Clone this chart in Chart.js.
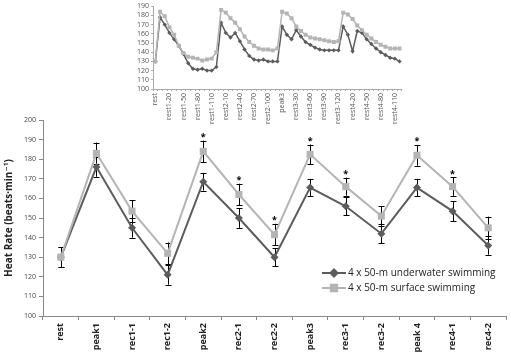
<!DOCTYPE html>
<html><head><meta charset="utf-8">
<script src="https://cdn.jsdelivr.net/npm/chart.js@4"></script>
<style>
html,body{margin:0;padding:0;background:#fff;}
#wrap{position:relative;width:511px;height:355px;overflow:hidden;}
#main{position:absolute;left:0;top:0;}
#inset{position:absolute;left:120px;top:0;}
</style></head><body>
<div id="wrap">
<canvas id="main" width="511" height="355"></canvas>
<canvas id="inset" width="290" height="132"></canvas>
</div>
<script>
// ---------- main chart data ----------
const categories = ['rest','peak1','rec1-1','rec1-2','peak2','rec2-1','rec2-2','peak3','rec3-1','rec3-2','peak 4','rec4-1','rec4-2'];
const underwater = [130,176,145,121,168.5,150,130,165.5,156,142,165.5,153.5,136];
const underwaterErr = [5,5,5,5,4.5,5,4.7,4.5,4.7,5,4.5,5,4.7];
const surface = [130,183,153.5,132,184,162,141.5,182.5,166,151,182,166,145];
const surfaceErr = [5,5.5,5.5,5.5,5.5,5.5,5.5,5,4.6,5,5.3,4.7,5.7];
const significant = [4,5,6,7,8,10,11];
const seriesNames = ['4 x 50-m underwater swimming','4 x 50-m surface swimming'];

// ---------- inset data ----------
const insetCategories = ['rest','peak1',
 'rest1-10','rest1-20','rest1-30','rest1-40','rest1-50','rest1-60','rest1-70','rest1-80','rest1-90','rest1-100','rest1-110','rest1-120','peak2',
 'rest2-10','rest2-20','rest2-30','rest2-40','rest2-50','rest2-60','rest2-70','rest2-80','rest2-90','rest2-100','rest2-110','rest2-120','peak3',
 'rest3-10','rest3-20','rest3-30','rest3-40','rest3-50','rest3-60','rest3-70','rest3-80','rest3-90','rest3-100','rest3-110','rest3-120','peak4',
 'rest4-10','rest4-20','rest4-30','rest4-40','rest4-50','rest4-60','rest4-70','rest4-80','rest4-90','rest4-100','rest4-110','rest4-120'];
const insetUnderwater = [130,178,170,161,154,147,138,128,122,121,122,120,120,124,172,
 161,156,161,152,143,136,132,131,132,130,130,130,168,
 159,154,164,157,151,148,145,143,142,142,142,142,168,
 159,141,163,161,154,149,144,140,137,134,133,130];
const insetSurface = [130,184,179,167,159,147,139,135,134,133,131,132,133,140,186,
 183,177,172,165,157,151,147,144,143,143,142,144,184,
 182,177,168,163,159,156,155,154,153,152,151,152,183,
 181,176,169,164,159,155,151,148,146,144,144,144];

const DARK = '#5c5c5c';
const LIGHT = '#b4b4b4';
const AXIS = '#888888';
const FONT = "'Open Sans', 'DejaVu Sans', sans-serif";

const errorBars = {
  id: 'errorBars',
  beforeDatasetsDraw(chart) {
    const ctx = chart.ctx, ys = chart.scales.y;
    const sets = [[0, underwaterErr], [1, surfaceErr]];
    ctx.save();
    ctx.strokeStyle = '#000'; ctx.lineWidth = 1;
    sets.forEach(([di, errs]) => {
      const meta = chart.getDatasetMeta(di);
      const vals = chart.data.datasets[di].data;
      meta.data.forEach((pt, i) => {
        const x = Math.round(pt.x) + 0.5;
        const yt = ys.getPixelForValue(vals[i] + errs[i]);
        const yb = ys.getPixelForValue(vals[i] - errs[i]);
        ctx.beginPath();
        ctx.moveTo(x, yt); ctx.lineTo(x, yb);
        ctx.moveTo(x - 3, Math.round(yt) + 0.5); ctx.lineTo(x + 3, Math.round(yt) + 0.5);
        ctx.moveTo(x - 3, Math.round(yb) + 0.5); ctx.lineTo(x + 3, Math.round(yb) + 0.5);
        ctx.stroke();
      });
    });
    ctx.restore();
  },
  afterDatasetsDraw(chart) {
    const ctx = chart.ctx, ys = chart.scales.y;
    const meta = chart.getDatasetMeta(1);
    ctx.save();
    ctx.fillStyle = '#000';
    ctx.font = "bold 9px " + FONT;
    ctx.textAlign = 'center'; ctx.textBaseline = 'middle';
    significant.forEach(i => {
      const pt = meta.data[i];
      const y = ys.getPixelForValue(surface[i] + surfaceErr[i]) - 5;
      ctx.fillText('*', pt.x, y + 2);
    });
    // legend
    const rows = [[seriesNames[0], DARK, 'rectRot', 3.5, 273], [seriesNames[1], LIGHT, 'rect', 4.5, 288]];
    rows.forEach(([txt, col, ps, r, y]) => {
      ctx.strokeStyle = col; ctx.lineWidth = 2;
      ctx.beginPath(); ctx.moveTo(322, y); ctx.lineTo(346, y); ctx.stroke();
      Chart.helpers.drawPoint(ctx, {pointStyle: ps, radius: r, borderWidth: 1}, 334, y);
      ctx.fillStyle = col; ctx.fill();
      ctx.fillStyle = '#222';
      ctx.font = "10px " + FONT;
      ctx.textAlign = 'left';
      ctx.fillText(txt, 348, y);
    });
    ctx.restore();
  }
};

new Chart(document.getElementById('main'), {
  type: 'line',
  data: {
    labels: categories,
    datasets: [
      {label: seriesNames[0], data: underwater, borderColor: DARK, backgroundColor: DARK, borderWidth: 2,
       pointStyle: 'rectRot', pointRadius: 4, pointBorderWidth: 0, order: 1},
      {label: seriesNames[1], data: surface, borderColor: LIGHT, backgroundColor: LIGHT, borderWidth: 2,
       pointStyle: 'rect', pointRadius: 5, pointBorderWidth: 0, order: 0}
    ]
  },
  options: {
    responsive: false, animation: false, devicePixelRatio: 1,
    layout: {padding: {top: 120, right: 4, left: 0, bottom: 0}},
    plugins: {legend: {display: false}, tooltip: {enabled: false}},
    scales: {
      x: {
        offset: true,
        grid: {offset: true, drawOnChartArea: false, drawTicks: true, tickLength: 4, color: AXIS},
        border: {color: AXIS},
        ticks: {autoSkip: false, maxRotation: 90, minRotation: 90, color: '#222', padding: 3,
                font: {family: FONT, size: 9, weight: 'bold'}},
        afterFit(s) { s.height = 39; }
      },
      y: {
        min: 100, max: 200,
        grid: {drawOnChartArea: false, tickLength: 4, color: AXIS},
        border: {color: AXIS},
        ticks: {stepSize: 10, autoSkip: false, color: '#444', padding: 3, font: {family: FONT, size: 7}},
        title: {display: true, text: 'Heat Rate (beats·min⁻¹)', color: '#222',
                font: {family: FONT, size: 10, weight: 'bold'}, padding: {top: 3, bottom: 4}},
        afterFit(s) { s.width = 43; }
      }
    }
  },
  plugins: [errorBars]
});

new Chart(document.getElementById('inset'), {
  type: 'line',
  data: {
    labels: insetCategories,
    datasets: [
      {data: insetUnderwater, borderColor: DARK, backgroundColor: DARK, borderWidth: 1.5,
       pointStyle: 'rectRot', pointRadius: 2.2, pointBorderWidth: 0, order: 1},
      {data: insetSurface, borderColor: LIGHT, backgroundColor: LIGHT, borderWidth: 1.5,
       pointStyle: 'rect', pointRadius: 2.8, pointBorderWidth: 0, order: 0}
    ]
  },
  options: {
    responsive: false, animation: false, devicePixelRatio: 1,
    layout: {padding: {top: 4, right: 7, left: 0, bottom: 0}},
    plugins: {legend: {display: false}, tooltip: {enabled: false}},
    scales: {
      x: {
        offset: true,
        grid: {offset: true, drawOnChartArea: false, tickLength: 2, color: '#aaa'},
        border: {color: '#aaa'},
        ticks: {autoSkip: false, maxRotation: 90, minRotation: 90, color: '#555', padding: 2,
                font: {family: FONT, size: 7},
                callback: function(v, i) { return i % 3 === 0 ? this.getLabelForValue(v) : ''; }},
        afterFit(s) { s.height = 43; }
      },
      y: {
        min: 100, max: 190,
        grid: {drawOnChartArea: false, tickLength: 2, color: '#aaa'},
        border: {color: '#aaa'},
        ticks: {stepSize: 10, autoSkip: false, color: '#555', padding: 2, font: {family: FONT, size: 7}},
        afterFit(s) { s.width = 33; }
      }
    }
  }
});
</script>
</body></html>
